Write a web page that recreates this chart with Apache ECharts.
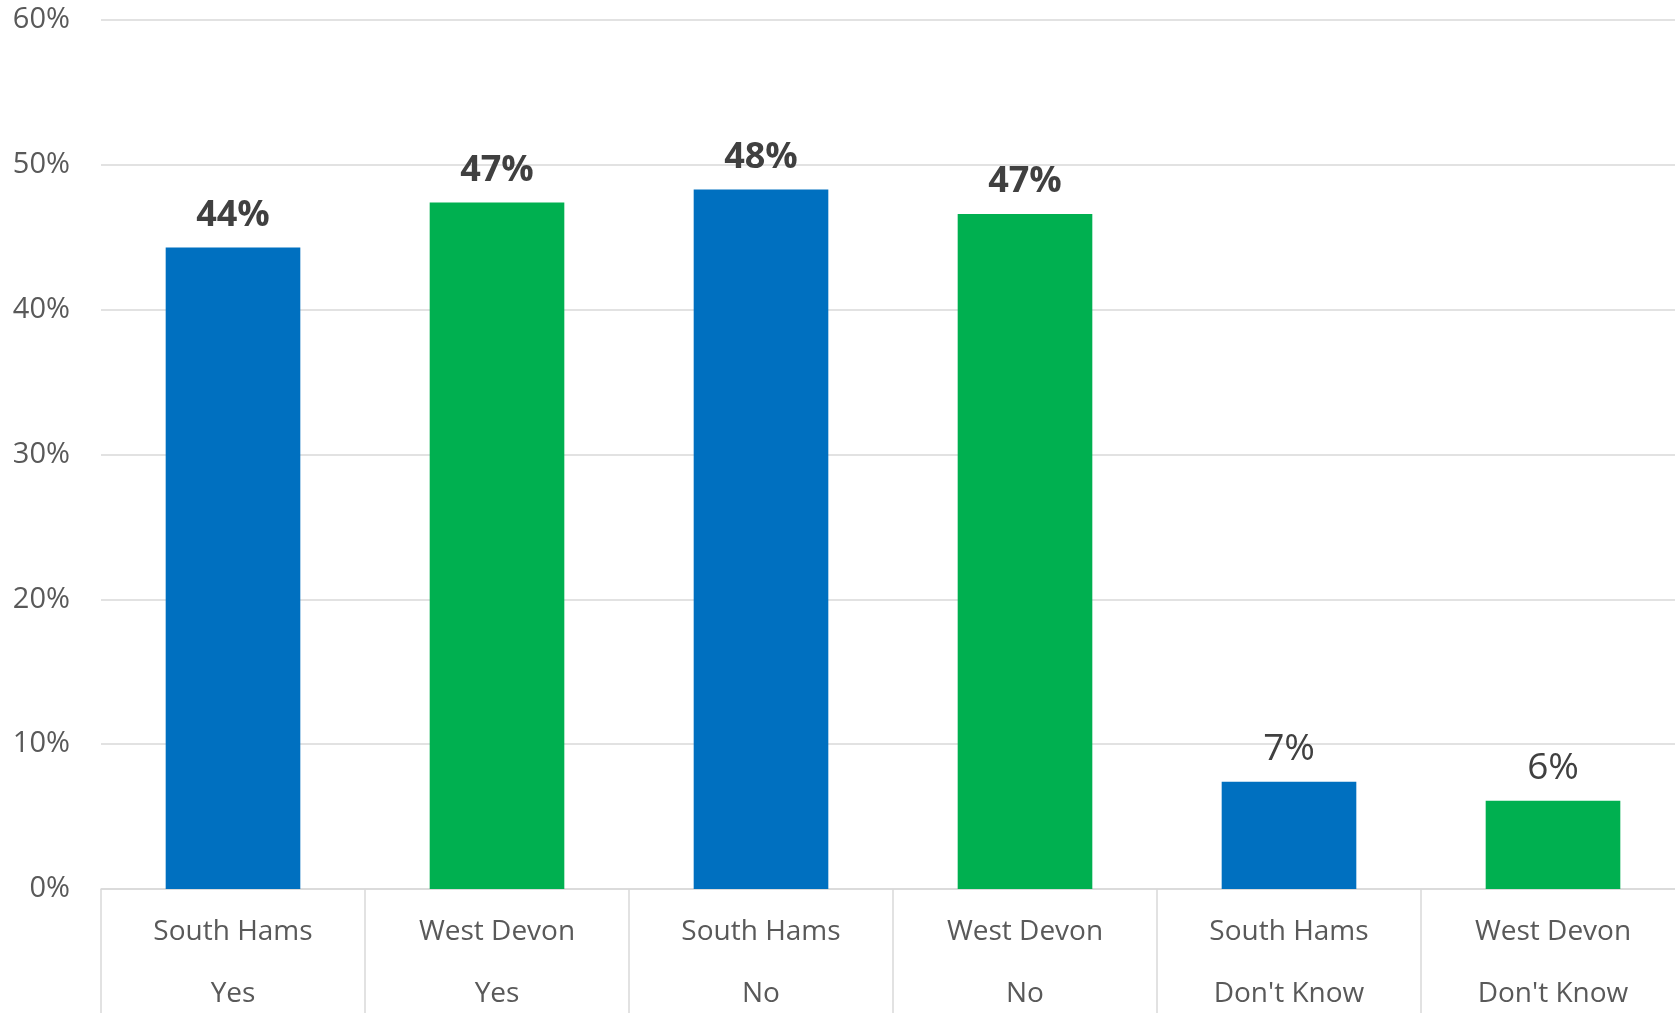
<!DOCTYPE html>
<html>
<head>
<meta charset="utf-8">
<script src="https://cdn.jsdelivr.net/npm/echarts@6/dist/echarts.min.js"></script>
<style>html,body{margin:0;padding:0;background:#fff;overflow:hidden;}#chart{width:1685px;height:1013px;}</style>
</head>
<body>
<div id="chart"></div>
<script>
const areas = ['South Hams', 'West Devon', 'South Hams', 'West Devon', 'South Hams', 'West Devon'];
const answers = ['Yes', 'Yes', 'No', 'No', "Don't Know", "Don't Know"];
const values = [44.3, 47.4, 48.3, 46.6, 7.4, 6.1];
const labelTexts = ['44%', '47%', '48%', '47%', '7%', '6%'];
const boldLabel = [true, true, true, true, false, false];
const barColors = ['#0070C0', '#00B050', '#0070C0', '#00B050', '#0070C0', '#00B050'];
const yTicks = [0, 10, 20, 30, 40, 50, 60];

const categories = areas.map((a, i) => a + '\n' + answers[i]);
const font = '"Open Sans", "Noto Sans", sans-serif';

const chart = echarts.init(document.getElementById('chart'), null, {renderer: 'canvas'});
chart.setOption({
  animation: false,
  grid: {left: 101, right: 0, top: 20, bottom: 124, containLabel: false, outerBoundsMode: 'none'},
  xAxis: {
    type: 'category',
    data: categories,
    axisLine: {show: true, lineStyle: {color: '#d9d9d9', width: 1.5}},
    axisTick: {show: true, alignWithLabel: false, length: 140, lineStyle: {color: '#d9d9d9', width: 1.5}},
    axisLabel: {color: '#595959', fontSize: 28, fontFamily: font, lineHeight: 62, margin: 12, interval: 0}
  },
  yAxis: {
    type: 'value',
    min: yTicks[0],
    max: yTicks[yTicks.length - 1],
    interval: 10,
    axisLine: {show: false},
    axisTick: {show: false},
    splitLine: {lineStyle: {color: '#d9d9d9', width: 1.5}},
    axisLabel: {color: '#595959', fontSize: 29, fontFamily: font, margin: 31, formatter: v => v + '%'}
  },
  series: [{
    type: 'bar',
    barWidth: '51%',
    data: values.map((v, i) => ({
      value: v,
      itemStyle: {color: barColors[i]},
      label: {
        show: true,
        position: 'top',
        distance: 14,
        formatter: labelTexts[i],
        color: '#404040',
        fontFamily: font,
        fontSize: boldLabel[i] ? 36 : 37,
        fontWeight: boldLabel[i] ? 'bold' : 'normal'
      }
    }))
  }]
});
</script>
</body>
</html>
